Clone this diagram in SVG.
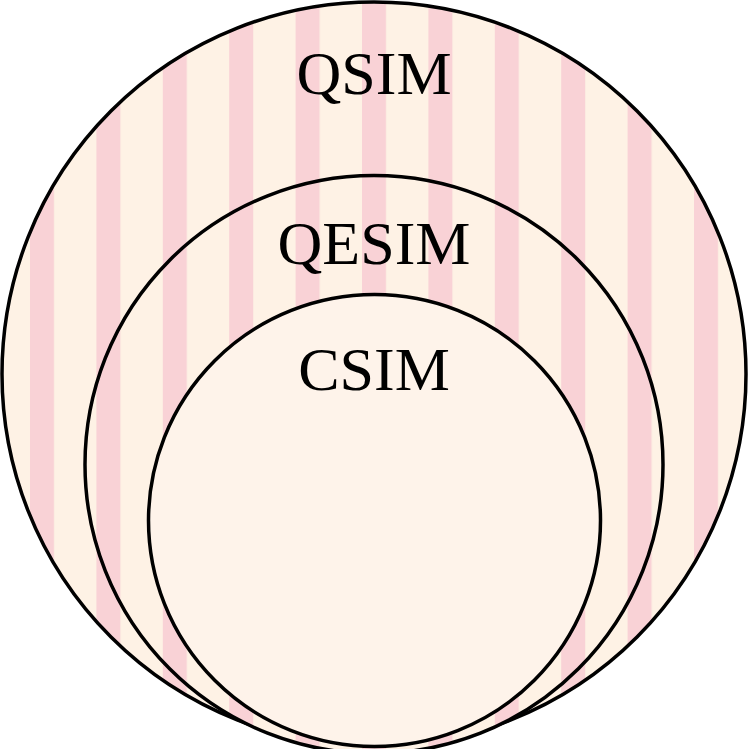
<svg xmlns="http://www.w3.org/2000/svg" width="748" height="749" viewBox="0 0 748 749">
<defs>
<pattern id="st" patternUnits="userSpaceOnUse" x="30" y="0" width="66.4" height="749">
<rect width="66.4" height="749" fill="#fef2e5"/>
<rect width="24" height="749" fill="#f9d2d6"/>
</pattern>
<style>.c{stroke:#000;stroke-width:3.5}.t{font-family:"Liberation Serif",serif;font-size:62px;text-anchor:middle;fill:#000}</style>
</defs>
<g id="qsim"><circle class="c" cx="374" cy="374" r="372" fill="url(#st)"/><text class="t" x="374" y="94">QSIM</text></g>
<g id="qesim"><circle class="c" cx="374" cy="464.5" r="289" fill="url(#st)"/><text class="t" x="374" y="264">QESIM</text></g>
<g id="csim"><circle class="c" cx="374.5" cy="520.5" r="226" fill="#fef3ea"/><text class="t" x="374" y="390">CSIM</text></g>
<g id="connectors"/>
</svg>
